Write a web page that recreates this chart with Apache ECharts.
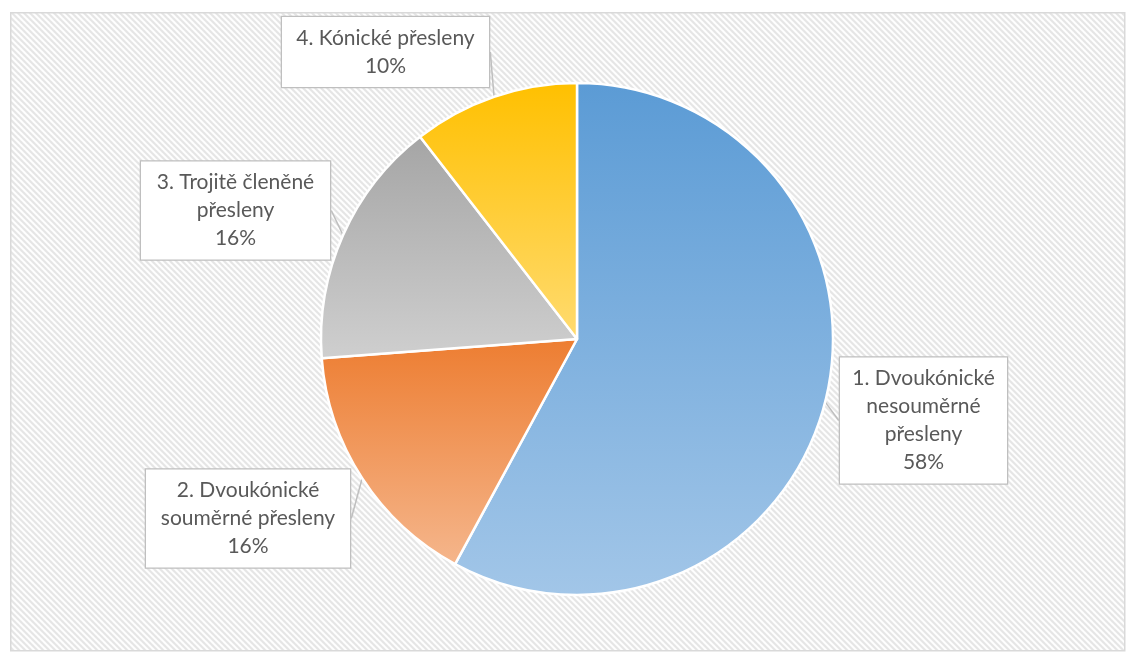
<!DOCTYPE html>
<html>
<head>
<meta charset="utf-8">
<style>
  html, body { margin: 0; padding: 0; background: #ffffff; }
  #chart { width: 1134px; height: 661px; }
</style>
<script src="https://cdn.jsdelivr.net/npm/echarts@6/dist/echarts.min.js"></script>
</head>
<body>
<div id="chart"></div>
<script>
// ---- data ----
const categories = [
  '1. Dvoukónické\nnesouměrné\npřesleny',
  '2. Dvoukónické\nsouměrné přesleny',
  '3. Trojitě členěné\npřesleny',
  '4. Kónické přesleny'
];
const shares = [57.9, 15.9, 15.7, 10.5];

// ---- styling ----
const gradients = [
  ['#5b9bd5', '#a2c6e8'],
  ['#ed7d31', '#f5b68c'],
  ['#a5a5a5', '#cfcfcf'],
  ['#ffc000', '#ffdb70']
];
// label box centers and widths (layout)
const boxCenters = [[923.5, 420.5], [248, 518.5], [235.5, 210.5], [385.5, 52]];
const boxWidths = [167, 204, 189, 207];
const padX = 8;

// hatch pattern tile
const tile = document.createElement('canvas');
tile.width = 6; tile.height = 6;
const tctx = tile.getContext('2d');
tctx.fillStyle = '#ffffff';
tctx.fillRect(0, 0, 6, 6);
tctx.fillStyle = '#e5e5e5';
for (let y = 0; y < 6; y++) {
  for (let x = 0; x < 6; x++) {
    if ((((x - y) % 6) + 6) % 6 < 3) tctx.fillRect(x, y, 1, 1);
  }
}

const chart = echarts.init(document.getElementById('chart'), null, { renderer: 'canvas' });

const data = categories.map((name, i) => ({
  name: name,
  value: shares[i],
  itemStyle: {
    color: {
      type: 'linear', x: 0, y: 0, x2: 0, y2: 1,
      colorStops: [
        { offset: 0, color: gradients[i][0] },
        { offset: 1, color: gradients[i][1] }
      ]
    }
  },
  label: { width: boxWidths[i] - 2 * padX }
}));

const option = {
  animation: false,
  backgroundColor: '#ffffff',
  graphic: [{
    type: 'rect',
    left: 10, top: 12,
    shape: { width: 1114, height: 638 },
    style: {
      fill: { image: tile, repeat: 'repeat' },
      stroke: '#d9d9d9',
      lineWidth: 1.5
    },
    z: -10,
    silent: true
  }],
  series: [{
    type: 'pie',
    center: [577, 339],
    radius: 256,
    startAngle: 90,
    clockwise: true,
    percentPrecision: 0,
    avoidLabelOverlap: false,
    silent: true,
    emphasis: { disabled: true },
    itemStyle: { borderColor: '#ffffff', borderWidth: 2.5 },
    label: {
      show: true,
      position: 'outside',
      formatter: '{b}\n{d}%',
      fontFamily: 'Lato',
      fontSize: 21,
      lineHeight: 28,
      color: '#595959',
      align: 'center',
      backgroundColor: '#ffffff',
      borderColor: '#bfbfbf',
      borderWidth: 1.3,
      padding: [10, padX, 4, padX],
      overflow: 'none'
    },
    labelLine: {
      show: true,
      length: 0,
      length2: 0,
      lineStyle: { color: '#bfbfbf', width: 1.5 }
    },
    labelLayout: function (params) {
      const c = boxCenters[params.dataIndex];
      return { x: c[0], y: c[1], align: 'center', verticalAlign: 'middle' };
    },
    data: data
  }]
};

chart.setOption(option);
</script>
</body>
</html>
